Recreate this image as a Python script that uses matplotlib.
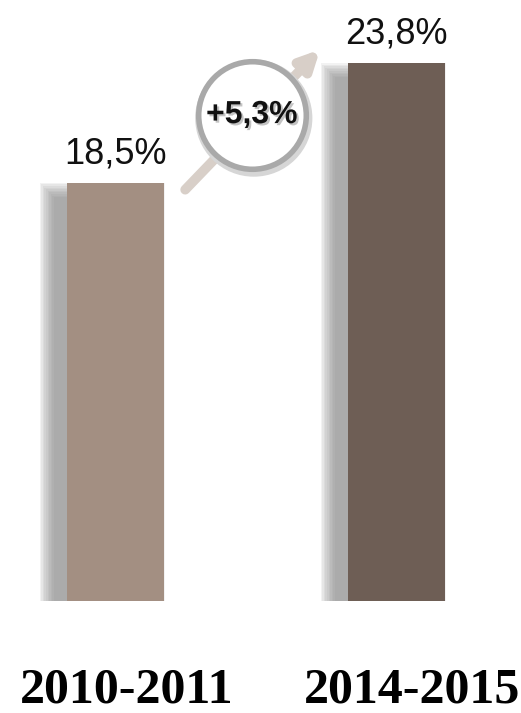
import matplotlib
matplotlib.use("Agg")
import matplotlib.pyplot as plt
import matplotlib.patheffects as pe

periods = ["2010-2011", "2014-2015"]
values = [18.5, 23.8]
value_labels = ["18,5%", "23,8%"]
change_label = "+5,3%"
bar_colors = ["#a38f82", "#6e5e55"]

W, H = 521, 713
fig = plt.figure(figsize=(W / 100, H / 100), dpi=100)
base_px = 112            # baseline distance from bottom, px
ax = fig.add_axes([0, base_px / H, 1, 1 - base_px / H])
px_per_unit_y = 22.6
ax.set_ylim(0, (H - base_px) / px_per_unit_y)
px_per_unit_x = 281
ax.set_xlim(-115.5 / px_per_unit_x, 1 + (W - 396.5) / px_per_unit_x)
ax.axis("off")

xs = list(range(len(values)))
bw = 97 / px_per_unit_x
dx = 13 / px_per_unit_x
dy = 12 / px_per_unit_y

# soft shadow: layered translucent rectangles behind the bars
for k in range(10):
    grow_x = k * 1.6 / px_per_unit_x
    grow_y = k * 1.6 / px_per_unit_y
    ax.bar([x - dx for x in xs], [v - dy + 2 * grow_y for v in values],
           width=bw + 2 * grow_x, bottom=-0.1 - grow_y,
           color="#8a8a8a", alpha=0.11, linewidth=0, zorder=1)

ax.bar(xs, values, width=bw, color=bar_colors, linewidth=0, zorder=3)

for x, v, lab in zip(xs, values, value_labels):
    ax.text(x, v + 0.5, lab, ha="center", va="bottom", fontsize=26,
            family=["Liberation Sans", "DejaVu Sans"], color="#111111", zorder=4)

# growth arrow and circle badge
ax.annotate("", xy=(0.728, 24.4), xytext=(0.248, 18.2),
            arrowprops=dict(arrowstyle="-|>,head_length=1.1,head_width=0.55",
                            color="#d8cfc8", lw=7, shrinkA=0, shrinkB=0),
            zorder=2)
cx, cy = 0.485, 21.5
ax.scatter([cx + 2 / px_per_unit_x], [cy - 3 / px_per_unit_y], s=6300,
           facecolor="none", edgecolor="#d6d6d6", linewidth=5, zorder=4)
ax.scatter([cx], [cy], s=6000, facecolor="white", edgecolor="#a9a9a9",
           linewidth=4, zorder=5)
ax.text(cx, cy, change_label, ha="center", va="center", fontsize=23,
        fontweight="bold", family=["Liberation Sans", "DejaVu Sans"],
        color="#111111", zorder=7,
        path_effects=[pe.SimplePatchShadow(offset=(1.5, -1.5),
                                           shadow_rgbFace="#888888", alpha=0.5),
                      pe.Normal()])

# period labels
for x, lab, off in zip(xs, periods, [0.04, 0.055]):
    ax.text(x + off, -3.95, lab, ha="center", va="center", fontsize=36,
            fontweight="bold", family=["Liberation Serif", "DejaVu Serif"],
            color="black", clip_on=False)

fig.savefig("out.png", dpi=100)
